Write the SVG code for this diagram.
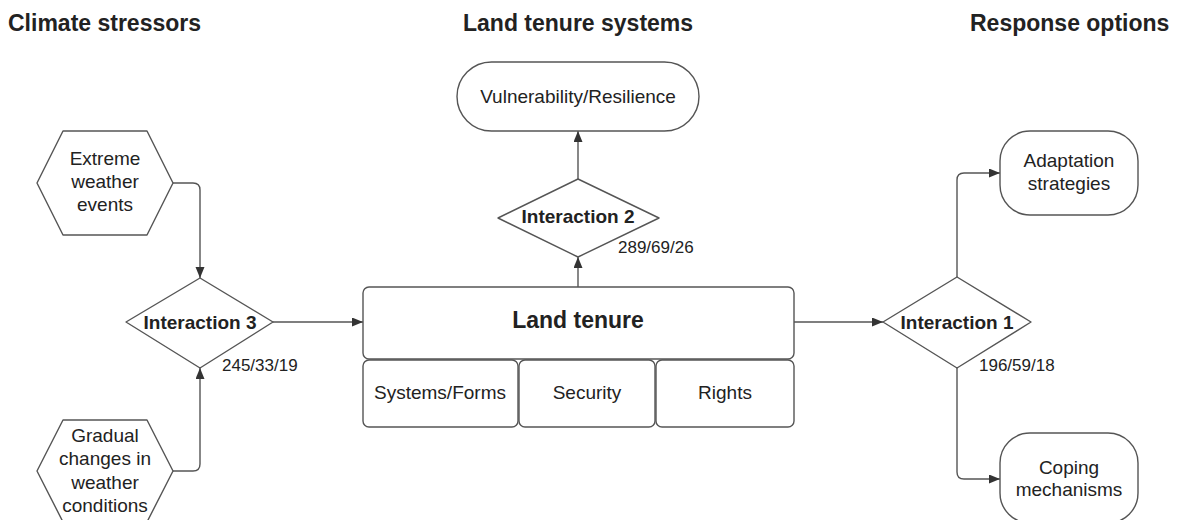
<svg xmlns="http://www.w3.org/2000/svg" width="1182" height="520" viewBox="0 0 1182 520">
<style>
.shape{fill:#fff;stroke:#555;stroke-width:1.4;stroke-linejoin:round}
.conn{fill:none;stroke:#555;stroke-width:1.4}
.t{font-family:"Liberation Sans",Arial,sans-serif;font-size:19px;fill:#222;text-anchor:middle}
.b{font-weight:bold}
.h{font-family:"Liberation Sans",Arial,sans-serif;font-size:23px;font-weight:bold;fill:#222}
.lbl{font-family:"Liberation Sans",Arial,sans-serif;font-size:17px;fill:#222}
</style>
<defs>
<marker id="arr" markerUnits="userSpaceOnUse" markerWidth="12" markerHeight="10" refX="11" refY="4.5" orient="auto">
<path d="M0,0 L11,4.5 L0,9 z" fill="#333"/>
</marker>
</defs>
<g id="headers">
<text class="h" x="8" y="31">Climate stressors</text>
<text class="h" x="463" y="31">Land tenure systems</text>
<text class="h" x="970" y="31">Response options</text>
</g>
<g id="connectors">
<path class="conn" d="M173,183 H193 Q200,183 200,190 V278" marker-end="url(#arr)"/>
<path class="conn" d="M173,471 H193 Q200,471 200,464 V368" marker-end="url(#arr)"/>
<path class="conn" d="M273,322 H363" marker-end="url(#arr)"/>
<path class="conn" d="M578,287 V257" marker-end="url(#arr)"/>
<path class="conn" d="M578,179 V131" marker-end="url(#arr)"/>
<path class="conn" d="M794,322 H883" marker-end="url(#arr)"/>
<path class="conn" d="M957,277 V180 Q957,173 964,173 H1000" marker-end="url(#arr)"/>
<path class="conn" d="M957,368 V472 Q957,479 964,479 H1000" marker-end="url(#arr)"/>
</g>
<g id="extreme">
<polygon class="shape" points="37,183 63,131 147,131 173,183 147,235 63,235"/>
<text class="t" x="105" y="165">Extreme</text>
<text class="t" x="105" y="188">weather</text>
<text class="t" x="105" y="211">events</text>
</g>
<g id="gradual">
<polygon class="shape" points="37,471 63,420 147,420 173,471 147,522 63,522"/>
<text class="t" x="105" y="442">Gradual</text>
<text class="t" x="105" y="465">changes in</text>
<text class="t" x="105" y="489">weather</text>
<text class="t" x="105" y="512">conditions</text>
</g>
<g id="interaction3">
<polygon class="shape" points="126,322 200,278 273,322 200,368"/>
<text class="t b" x="200" y="328.5">Interaction 3</text>
<text class="lbl" x="222" y="371">245/33/19</text>
</g>
<g id="landtenure">
<rect class="shape" x="363" y="287" width="431" height="72" rx="6"/>
<text class="t b" x="578" y="328" style="font-size:23px">Land tenure</text>
</g>
<g id="systems">
<rect class="shape" x="363" y="360" width="155" height="67" rx="6"/>
<text class="t" x="440" y="399">Systems/Forms</text>
</g>
<g id="security">
<rect class="shape" x="519" y="360" width="136" height="67" rx="6"/>
<text class="t" x="587" y="399">Security</text>
</g>
<g id="rights">
<rect class="shape" x="656" y="360" width="138" height="67" rx="6"/>
<text class="t" x="725" y="399">Rights</text>
</g>
<g id="interaction2">
<polygon class="shape" points="498,218 578,179 659,218 578,257"/>
<text class="t b" x="578" y="223">Interaction 2</text>
<text class="lbl" x="618" y="253">289/69/26</text>
</g>
<g id="vulnerability">
<rect class="shape" x="457" y="62" width="242" height="69" rx="34.5"/>
<text class="t" x="578" y="103">Vulnerability/Resilience</text>
</g>
<g id="interaction1">
<polygon class="shape" points="883,322 957,277 1031,322 957,368"/>
<text class="t b" x="957" y="328.5">Interaction 1</text>
<text class="lbl" x="979" y="371">196/59/18</text>
</g>
<g id="adaptation">
<rect class="shape" x="1000" y="131" width="138" height="84" rx="30"/>
<text class="t" x="1069" y="167">Adaptation</text>
<text class="t" x="1069" y="190">strategies</text>
</g>
<g id="coping">
<rect class="shape" x="1000" y="433" width="138" height="90" rx="30"/>
<text class="t" x="1069" y="473.5">Coping</text>
<text class="t" x="1069" y="496">mechanisms</text>
</g>
</svg>
